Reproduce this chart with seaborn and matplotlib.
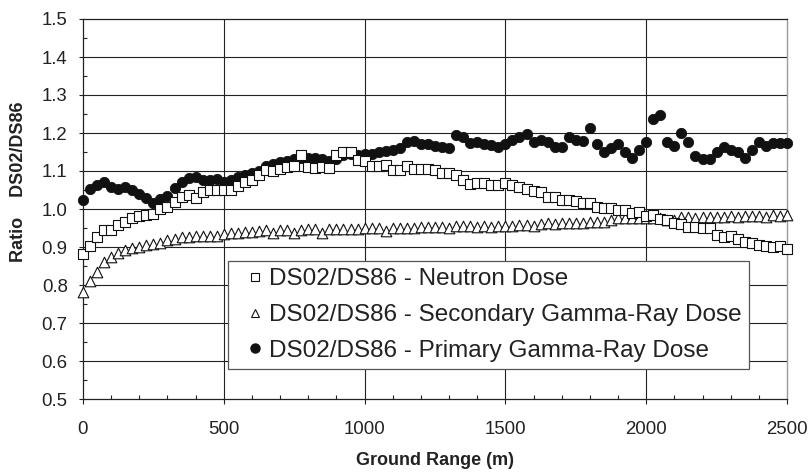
import numpy as np
import pandas as pd
import matplotlib
matplotlib.use("Agg")
import matplotlib.pyplot as plt
from matplotlib.lines import Line2D
from matplotlib.ticker import MultipleLocator
import seaborn as sns

# ---- data ----
ground_range = list(range(0, 2501, 25))

neutron = [
    0.882, 0.903, 0.927, 0.945, 0.945, 0.958, 0.967, 0.976, 0.982, 0.984,
    0.987, 0.999, 1.006, 1.019, 1.032, 1.037, 1.028, 1.046, 1.050, 1.050,
    1.050, 1.050, 1.061, 1.072, 1.075, 1.090, 1.103, 1.100, 1.104, 1.110,
    1.113, 1.142, 1.110, 1.107, 1.111, 1.107, 1.142, 1.151, 1.149, 1.129,
    1.125, 1.113, 1.113, 1.116, 1.103, 1.102, 1.113, 1.104, 1.104, 1.104,
    1.102, 1.096, 1.094, 1.089, 1.075, 1.065, 1.068, 1.068, 1.064, 1.064,
    1.068, 1.064, 1.057, 1.052, 1.048, 1.046, 1.032, 1.032, 1.025, 1.025,
    1.021, 1.015, 1.015, 1.006, 1.002, 1.002, 0.997, 0.998, 0.990, 0.992,
    0.982, 0.984, 0.973, 0.972, 0.964, 0.961, 0.953, 0.953, 0.950, 0.950,
    0.932, 0.926, 0.928, 0.920, 0.914, 0.910, 0.905, 0.903, 0.901, 0.903,
    0.894,
]

secondary_gamma = [
    0.782, 0.811, 0.835, 0.861, 0.874, 0.883, 0.892, 0.897, 0.901, 0.905,
    0.908, 0.911, 0.918, 0.922, 0.925, 0.927, 0.928, 0.928, 0.929, 0.930,
    0.934, 0.936, 0.938, 0.940, 0.940, 0.942, 0.946, 0.938, 0.945, 0.946,
    0.938, 0.946, 0.947, 0.947, 0.938, 0.947, 0.948, 0.948, 0.948, 0.948,
    0.949, 0.949, 0.949, 0.943, 0.950, 0.950, 0.951, 0.951, 0.952, 0.952,
    0.953, 0.953, 0.950, 0.954, 0.954, 0.955, 0.953, 0.955, 0.952, 0.955,
    0.956, 0.954, 0.957, 0.958, 0.956, 0.960, 0.962, 0.960, 0.962, 0.963,
    0.963, 0.964, 0.965, 0.966, 0.967, 0.972, 0.975, 0.976, 0.976, 0.977,
    0.976, 0.977, 0.975, 0.972, 0.970, 0.978, 0.978, 0.977, 0.979, 0.979,
    0.980, 0.979, 0.981, 0.980, 0.982, 0.981, 0.982, 0.980, 0.983, 0.982,
    0.984,
]

primary_gamma = [
    1.024, 1.052, 1.063, 1.070, 1.058, 1.052, 1.057, 1.050, 1.040, 1.028,
    1.017, 1.026, 1.035, 1.055, 1.072, 1.081, 1.083, 1.076, 1.075, 1.078,
    1.072, 1.076, 1.085, 1.090, 1.096, 1.100, 1.112, 1.118, 1.123, 1.127,
    1.131, 1.133, 1.135, 1.133, 1.131, 1.127, 1.131, 1.142, 1.146, 1.142,
    1.146, 1.146, 1.150, 1.153, 1.154, 1.160, 1.177, 1.178, 1.172, 1.170,
    1.165, 1.163, 1.160, 1.195, 1.189, 1.173, 1.175, 1.171, 1.168, 1.164,
    1.172, 1.181, 1.190, 1.197, 1.175, 1.182, 1.177, 1.164, 1.164, 1.189,
    1.182, 1.180, 1.212, 1.171, 1.151, 1.160, 1.171, 1.149, 1.133, 1.154,
    1.177, 1.236, 1.247, 1.175, 1.167, 1.199, 1.175, 1.140, 1.131, 1.131,
    1.151, 1.162, 1.156, 1.151, 1.133, 1.154, 1.175, 1.167, 1.173, 1.173,
    1.173,
]

labels = [
    "DS02/DS86 - Neutron Dose",
    "DS02/DS86 - Secondary Gamma-Ray Dose",
    "DS02/DS86 - Primary Gamma-Ray Dose",
]
x_ticks = [0, 500, 1000, 1500, 2000, 2500]
y_ticks = [0.5, 0.6, 0.7, 0.8, 0.9, 1.0, 1.1, 1.2, 1.3, 1.4, 1.5]

df = pd.DataFrame({
    "range": ground_range,
    "neutron": neutron,
    "secondary": secondary_gamma,
    "primary": primary_gamma,
})

sns.set_theme(style="white")
plt.rcParams["font.family"] = ["Liberation Sans", "DejaVu Sans"]

fig = plt.figure(figsize=(8.09, 4.73), dpi=100)
ax = fig.add_axes([83 / 809, 1 - 399 / 473, 704 / 809, 380 / 473])

# grid
for yv in y_ticks[1:-1]:
    ax.axhline(yv, color="#222222", lw=0.8, zorder=0)
for xv in x_ticks[1:-1]:
    ax.axvline(xv, color="#222222", lw=0.8, zorder=0)

sns.scatterplot(data=df, x="range", y="primary", ax=ax, marker="o", s=55,
                color="#111111", edgecolor="#111111", linewidth=0.6,
                clip_on=False, zorder=3, legend=False)
sns.scatterplot(data=df, x="range", y="secondary", ax=ax, marker="^", s=58,
                color="white", edgecolor="#111111", linewidth=0.8,
                clip_on=False, zorder=4, legend=False)
sns.scatterplot(data=df, x="range", y="neutron", ax=ax, marker="s", s=52,
                color="white", edgecolor="#111111", linewidth=0.8,
                clip_on=False, zorder=5, legend=False)

ax.set_xlim(0, 2500)
ax.set_ylim(0.5, 1.5)
ax.set_xticks(x_ticks)
ax.set_yticks(y_ticks)
ax.set_xticklabels([str(v) for v in x_ticks])
ax.set_yticklabels([f"{v:.1f}" for v in y_ticks])
ax.xaxis.set_minor_locator(MultipleLocator(100))
ax.yaxis.set_minor_locator(MultipleLocator(0.05))
ax.tick_params(axis="both", which="major", direction="out", length=3.5,
               width=0.8, color="#222222", labelsize=13.4, labelcolor="#222222")
ax.tick_params(axis="x", which="major", pad=12)
ax.tick_params(axis="y", which="major", length=3, pad=8)
ax.tick_params(axis="both", which="minor", direction="in", length=3,
               width=0.8, color="#222222")
ax.tick_params(bottom=True, left=True, which="both")

for side in ["left", "bottom", "top"]:
    ax.spines[side].set_color("#222222")
    ax.spines[side].set_linewidth(0.9)
ax.spines["right"].set_color("#9a9a9a")
ax.spines["right"].set_linewidth(1.0)

ax.set_xlabel("Ground Range (m)", fontsize=13, fontweight="bold",
              color="#222222", labelpad=10.5)
ax.set_ylabel("Ratio    DS02/DS86", fontsize=13, fontweight="bold",
              color="#222222")
ax.yaxis.set_label_coords(-0.079, 0.572)

handles = [
    Line2D([], [], ls="none", marker="s", ms=6, mfc="white", mec="#111111", mew=0.8),
    Line2D([], [], ls="none", marker="^", ms=6, mfc="white", mec="#111111", mew=0.8),
    Line2D([], [], ls="none", marker="o", ms=6.5, mfc="#111111", mec="#111111"),
]
leg = ax.legend(handles, labels, loc="lower left",
                bbox_to_anchor=(0.206, 0.079), borderaxespad=0,
                fontsize=17.5, frameon=True, fancybox=False, framealpha=1,
                edgecolor="#555555", handlelength=1.6, handletextpad=-0.22,
                labelspacing=0.56, borderpad=0.3)
leg.get_frame().set_linewidth(0.9)
for t in leg.get_texts():
    t.set_color("#222222")
leg.set_zorder(10)

fig.savefig("out.png", dpi=100)
